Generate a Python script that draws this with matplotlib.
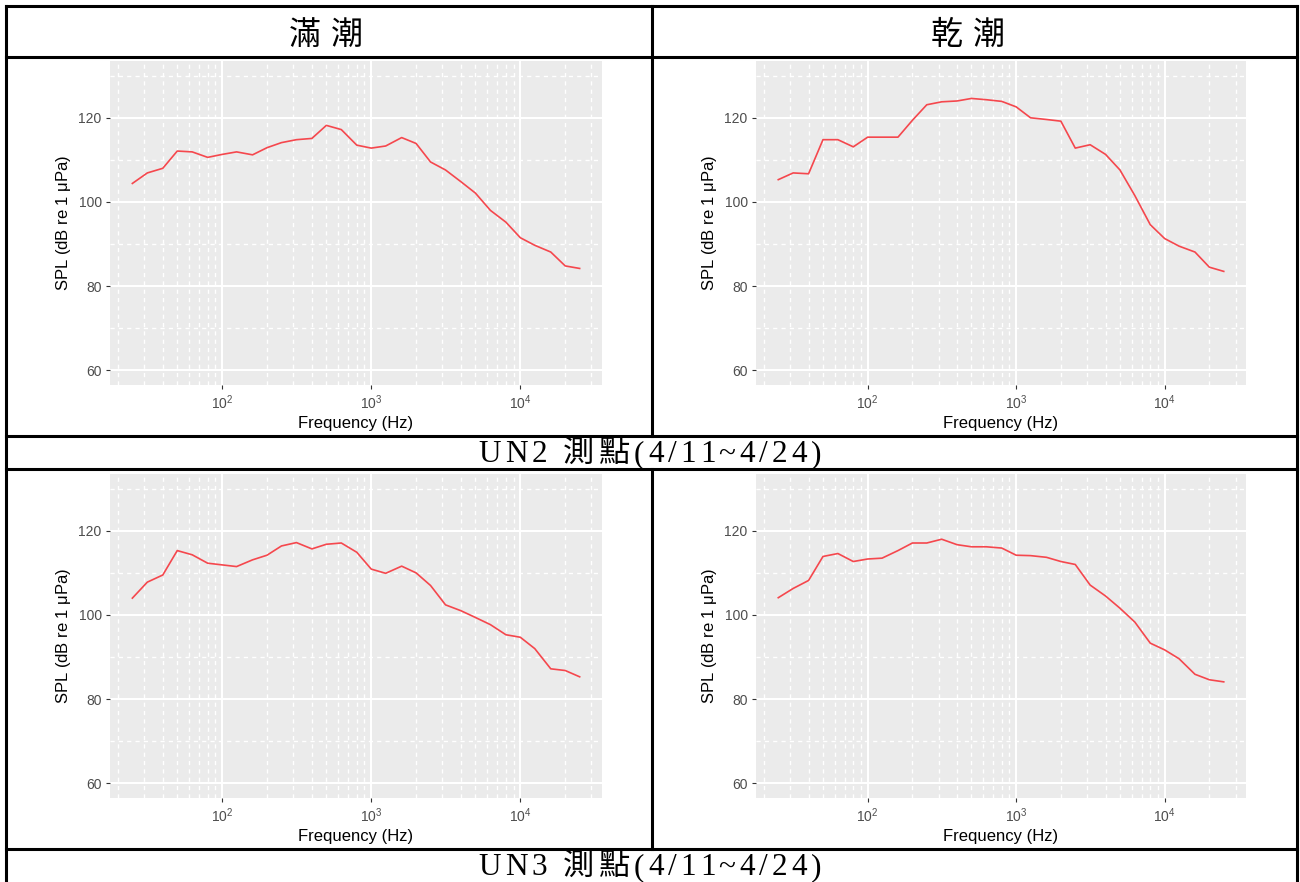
import matplotlib
matplotlib.use('Agg')
import matplotlib.pyplot as plt
from matplotlib.ticker import FixedLocator, LogLocator, NullFormatter

plt.rcParams['font.family'] = ['Liberation Sans', 'DejaVu Sans']
plt.rcParams['mathtext.fontset'] = 'custom'
plt.rcParams['mathtext.rm'] = 'Liberation Sans'
plt.rcParams['mathtext.default'] = 'regular'

# 1/3-octave band centre frequencies (Hz)
freqs = [25, 31.5, 40, 50, 63, 80, 100, 125, 160, 200, 250, 315, 400, 500,
         630, 800, 1000, 1250, 1600, 2000, 2500, 3150, 4000, 5000, 6300,
         8000, 10000, 12500, 16000, 20000, 25000]

# band SPL, dB re 1 uPa
un2_high = [104.4, 106.9, 108.0, 112.1, 111.9, 110.6, 111.3, 111.9, 111.2,
            112.9, 114.1, 114.8, 115.1, 118.2, 117.2, 113.5, 112.8, 113.3,
            115.3, 113.9, 109.5, 107.6, 104.8, 102.1, 98.0, 95.2, 91.5,
            89.7, 88.1, 84.8, 84.2]
un2_low = [105.3, 106.9, 106.7, 114.8, 114.8, 113.1, 115.4, 115.4, 115.4,
           119.4, 123.1, 123.8, 124.0, 124.6, 124.3, 123.9, 122.6, 120.0,
           119.6, 119.2, 112.8, 113.6, 111.3, 107.6, 101.5, 94.6, 91.3,
           89.5, 88.1, 84.5, 83.5]
un3_high = [104.0, 107.8, 109.5, 115.3, 114.3, 112.3, 111.9, 111.5, 113.1,
            114.2, 116.4, 117.2, 115.7, 116.8, 117.1, 114.9, 110.9, 109.9,
            111.6, 110.0, 107.0, 102.4, 101.0, 99.4, 97.7, 95.3, 94.7,
            92.0, 87.2, 86.8, 85.3]
un3_low = [104.1, 106.3, 108.2, 113.9, 114.6, 112.7, 113.3, 113.5, 115.3,
           117.1, 117.1, 118.0, 116.7, 116.2, 116.2, 115.9, 114.2, 114.1,
           113.7, 112.7, 112.0, 107.1, 104.5, 101.6, 98.3, 93.3, 91.7,
           89.6, 85.9, 84.6, 84.1]

col_titles = ['滿潮', '乾潮']
row_titles = ['UN2 測點(4/11~4/24)', 'UN3 測點(4/11~4/24)']

W, H = 1300, 882
fig = plt.figure(figsize=(W / 100, H / 100), dpi=100)


def px_rect(x0, y0, x1, y1):
    return [x0 / W, 1 - y1 / H, (x1 - x0) / W, (y1 - y0) / H]


# table frame drawn on a full-figure axes in pixel units
tab = fig.add_axes([0, 0, 1, 1])
tab.set_xlim(0, W)
tab.set_ylim(H, 0)
tab.axis('off')
lw_tab = 2.2
for y in [6, 57, 436, 469, 849]:
    tab.plot([6, 1297], [y, y], color='black', lw=lw_tab, solid_capstyle='projecting')
tab.plot([6, 6], [6, H + 5], color='black', lw=lw_tab)
tab.plot([1297, 1297], [6, H + 5], color='black', lw=lw_tab)
for y0, y1 in [(6, 436), (469, 849)]:
    tab.plot([652, 652], [y0, y1], color='black', lw=lw_tab)


def tracked_text(ax, cx, y, s, track, **kw):
    """Centred single-line text with extra spacing between characters."""
    r = fig.canvas.get_renderer()

    def width(txt):
        t = ax.text(0, 0, txt, **kw)
        w = t.get_window_extent(r).width
        t.remove()
        return w

    w_x = width('x')
    starts = [0.0] + [width(s[:i] + 'x') - w_x for i in range(1, len(s))]
    total = width(s) + track * (len(s) - 1)
    x0 = cx - total / 2
    for i, ch in enumerate(s):
        if ch == ' ':
            continue
        ax.text(x0 + starts[i] + i * track, y, ch, ha='left', va='baseline', **kw)


cjk = ['Noto Sans CJK TC', 'DejaVu Sans']
serif_cjk = ['Liberation Serif', 'Noto Sans CJK TC']
tracked_text(tab, 326, 44, col_titles[0], 10, fontsize=23, family=cjk)
tracked_text(tab, 968, 44, col_titles[1], 10, fontsize=23, family=cjk)
tracked_text(tab, 650, 462, row_titles[0], 4, fontsize=22.5, family=serif_cjk)
tracked_text(tab, 650, 875, row_titles[1], 4, fontsize=22.5, family=serif_cjk)

panels = [
    ((110, 61, 602, 385), un2_high),
    ((756, 61, 1246, 385), un2_low),
    ((110, 474, 602, 798), un3_high),
    ((756, 474, 1246, 798), un3_low),
]

for rect, spl in panels:
    ax = fig.add_axes(px_rect(*rect))
    ax.set_facecolor('#EBEBEB')
    ax.set_xscale('log')
    ax.set_xlim(17.7, 35300)
    ax.set_ylim(56.5, 133.5)

    ax.xaxis.set_major_locator(FixedLocator([1e2, 1e3, 1e4]))
    ax.xaxis.set_minor_locator(LogLocator(base=10, subs=range(2, 10), numticks=20))
    ax.xaxis.set_minor_formatter(NullFormatter())
    ax.set_xticks([1e2, 1e3, 1e4])
    ax.set_xticklabels([r'$10^{2}$', r'$10^{3}$', r'$10^{4}$'])
    ax.yaxis.set_major_locator(FixedLocator([60, 80, 100, 120]))
    ax.yaxis.set_minor_locator(FixedLocator([70, 90, 110, 130]))

    ax.grid(which='major', color='white', lw=1.5)
    ax.grid(which='minor', color='white', lw=1.0, ls=(0, (3, 3)))
    ax.set_axisbelow(True)
    for s in ax.spines.values():
        s.set_visible(False)
    ax.tick_params(which='major', length=3, width=0.8, color='#333333',
                   labelcolor='#4D4D4D', labelsize=10, pad=3)
    ax.tick_params(which='minor', length=0)

    ax.plot(freqs, spl, color='#f5474d', lw=1.2)

    ax.set_xlabel('Frequency (Hz)', fontsize=12, labelpad=3)
    ax.set_ylabel(r'SPL (dB re 1 $\mu$Pa)', fontsize=12, labelpad=4)

fig.savefig('out.png', dpi=100)
